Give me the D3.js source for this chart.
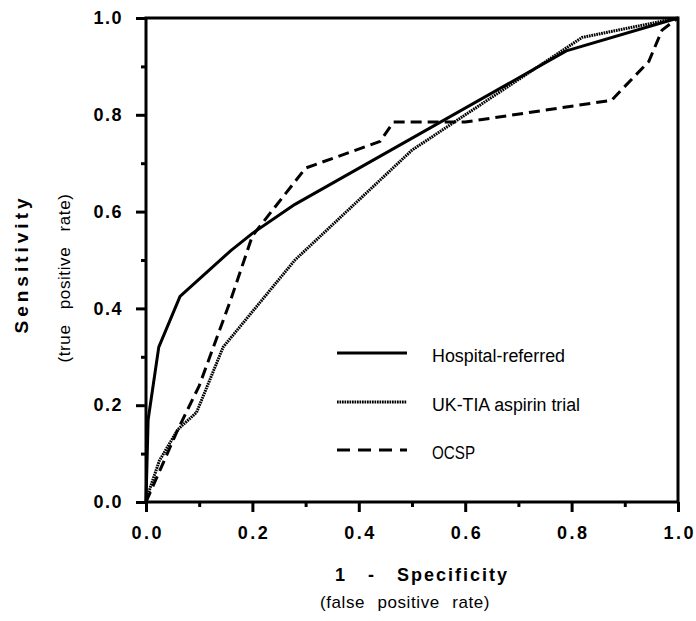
<script src="https://d3js.org/d3.v7.min.js"></script>

<html>
<body style="margin:0;background:#fff">
<div id="myPlot"></div>
</body>
<script>

    const xSize = 696;
    const ySize = 621;
    const margin = {left: 146, top: 18, right: 18, bottom: 119};
    const xMax = xSize - margin.left - margin.right;
    const yMax = ySize - margin.top - margin.bottom;

    // ROC curves: [1 - specificity, sensitivity]
    const hospital = [[0,0],[0.004,0.17],[0.024,0.32],[0.064,0.425],[0.16,0.52],[0.2,0.555],
        [0.28,0.615],[0.79,0.932],[1,1]];
    const ukTia = [[0,0],[0.008,0.03],[0.025,0.085],[0.06,0.15],[0.095,0.185],[0.145,0.32],
        [0.28,0.5],[0.5,0.727],[0.82,0.96],[1,1]];
    const ocsp = [[0,0],[0.06,0.15],[0.1,0.24],[0.16,0.42],[0.2,0.55],[0.3,0.69],[0.44,0.745],
        [0.465,0.785],[0.6,0.785],[0.875,0.83],[0.945,0.91],[0.97,0.975],[1,1]];

    const seriesNames = ['Hospital-referred', 'UK-TIA aspirin trial', 'OCSP'];
    const majorTicks = [0, 0.2, 0.4, 0.6, 0.8, 1.0];
    const minorTicks = [0.1, 0.3, 0.5, 0.7, 0.9];

    const styles = [
        {width: 3, dash: null},
        {width: 3, dash: '1.7,0.8'},
        {width: 3, dash: '11,6'},
    ];
    const legendDash = [null, '1.7,0.8', '13,8'];

    const svg = d3.select("#myPlot").append("svg")
        .attr("width", xSize)
        .attr("height", ySize)
        .style("font-family", "Liberation Sans, Arial, Helvetica, sans-serif");

    const gra = svg.append("g")
        .attr("transform", "translate(" + margin.left + "," + margin.top + ")");

    const x = d3.scaleLinear().domain([0, 1]).range([0, xMax]);
    const y = d3.scaleLinear().domain([0, 1]).range([yMax, 0]);

    // axes: major with labels, minor without
    const xAxis = gra.append("g").attr("transform", "translate(0," + yMax + ")")
        .call(d3.axisBottom(x).tickValues(majorTicks).tickSize(10).tickPadding(14)
            .tickFormat(d3.format(".1f")));
    gra.append("g").attr("transform", "translate(0," + yMax + ")")
        .call(d3.axisBottom(x).tickValues(minorTicks).tickSize(5).tickFormat(""));
    const yAxis = gra.append("g")
        .call(d3.axisLeft(y).tickValues(majorTicks).tickSize(10).tickPadding(13)
            .tickFormat(d3.format(".1f")));
    gra.append("g")
        .call(d3.axisLeft(y).tickValues(minorTicks).tickSize(5).tickFormat(""));

    gra.selectAll(".domain").remove();
    gra.selectAll(".tick line").attr("stroke", "#000").attr("stroke-width", 3);
    gra.selectAll(".tick text")
        .attr("fill", "#000")
        .style("font-size", "18px")
        .style("font-weight", "bold");
    xAxis.selectAll(".tick text").style("letter-spacing", "2.5px").attr("dx", "1.2px");
    yAxis.selectAll(".tick text").style("letter-spacing", "1.5px").attr("dx", "0px");

    // frame
    gra.append("rect")
        .attr("x", 0).attr("y", 0)
        .attr("width", xMax).attr("height", yMax)
        .attr("fill", "none")
        .attr("stroke", "#000")
        .attr("stroke-width", 3);

    const line = d3.line().x(d => x(d[0])).y(d => y(d[1]));

    [hospital, ukTia, ocsp].forEach((s, i) => {
        gra.append("path")
            .datum(s)
            .attr("d", line)
            .attr("fill", "none")
            .attr("stroke", "#000")
            .attr("stroke-width", styles[i].width)
            .attr("stroke-linejoin", "round")
            .attr("stroke-dasharray", styles[i].dash);
    });

    // legend
    const legY = [335, 384, 432];
    const legW = [133, 148, 43];
    const legend = gra.selectAll(".leg").data(seriesNames).enter().append("g")
        .attr("transform", (d, i) => "translate(191," + legY[i] + ")");
    legend.append("line")
        .attr("x1", 0).attr("x2", 70)
        .attr("stroke", "#000")
        .attr("stroke-width", 3)
        .attr("stroke-dasharray", (d, i) => legendDash[i]);
    legend.append("text")
        .attr("x", 95).attr("y", 9)
        .attr("textLength", (d, i) => legW[i])
        .attr("lengthAdjust", "spacingAndGlyphs")
        .style("font-size", "18px")
        .text(d => d);

    // axis titles
    svg.append("text")
        .attr("x", 422).attr("y", 581)
        .attr("text-anchor", "middle")
        .style("font-size", "18px").style("font-weight", "bold")
        .style("letter-spacing", "2px").style("word-spacing", "14px")
        .text("1 - Specificity");
    svg.append("text")
        .attr("x", 405).attr("y", 608)
        .attr("text-anchor", "middle")
        .style("font-size", "17px")
        .style("letter-spacing", "0.6px").style("word-spacing", "7px")
        .text("(false positive rate)");
    svg.append("text")
        .attr("transform", "translate(28,264) rotate(-90)")
        .attr("text-anchor", "middle")
        .style("font-size", "19px").style("font-weight", "bold")
        .style("letter-spacing", "4px")
        .text("Sensitivity");
    svg.append("text")
        .attr("transform", "translate(70,278) rotate(-90)")
        .attr("text-anchor", "middle")
        .style("font-size", "17px")
        .style("letter-spacing", "0.6px").style("word-spacing", "10px")
        .text("(true positive rate)");

</script>
</html>
